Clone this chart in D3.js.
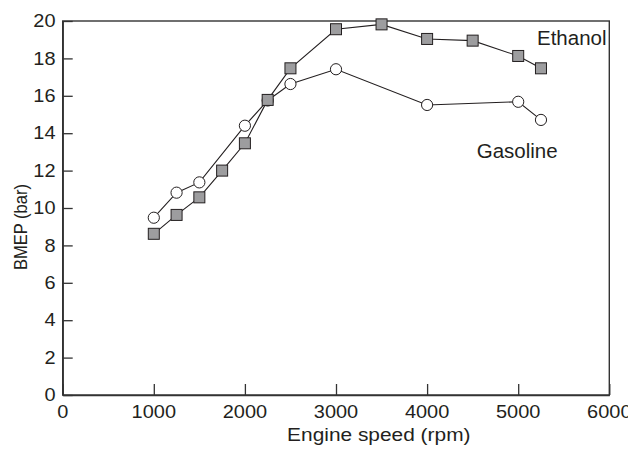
<!DOCTYPE html>
<html>
<head>
<meta charset="utf-8">
<script src="https://cdn.jsdelivr.net/npm/d3@7/dist/d3.min.js"></script>
<style>
  html, body { margin: 0; padding: 0; background: #fff; }
  svg { display: block; }
  text { font-family: "Liberation Sans", Arial, Helvetica, sans-serif; fill: #231f20; }
</style>
</head>
<body>
<svg id="chart" width="628" height="462"></svg>
<script>
// Data
const ethanolSpeed = [1000, 1250, 1500, 1750, 2000, 2250, 2500, 3000, 3500, 4000, 4500, 5000, 5250];
const ethanolBMEP  = [8.62, 9.63, 10.57, 12.0, 13.46, 15.78, 17.47, 19.56, 19.82, 19.04, 18.95, 18.13, 17.47];
const gasolineSpeed = [1000, 1250, 1500, 2000, 2250, 2500, 3000, 4000, 5000, 5250];
const gasolineBMEP  = [9.48, 10.82, 11.37, 14.40, 15.75, 16.63, 17.42, 15.51, 15.68, 14.71];
const xTicks = [0, 1000, 2000, 3000, 4000, 5000, 6000];
const yTicks = [0, 2, 4, 6, 8, 10, 12, 14, 16, 18, 20];
const seriesLabels = ["Ethanol", "Gasoline"];
const xTitle = "Engine speed (rpm)";
const yTitle = "BMEP (bar)";

(function () {
const svg = d3.select("#chart");
const mLeft = 62.7, mRight = 609.3, mTop = 21, mBottom = 395;
const x = d3.scaleLinear().domain([0, 6000]).range([mLeft, mRight]);
const y = d3.scaleLinear().domain([0, 20]).range([mBottom, mTop]);
const ink = "#231f20";
const sx = 1.14;

// Frame
svg.append("rect").attr("x", mLeft).attr("y", mTop)
  .attr("width", mRight - mLeft).attr("height", mBottom - mTop)
  .attr("fill", "none").attr("stroke", "#333").attr("stroke-width", 1.4);

// Axes (ticks inward)
const xAxis = svg.append("g").attr("transform", `translate(0,${mBottom})`)
  .call(d3.axisBottom(x).tickValues(xTicks).tickSizeInner(-11).tickSizeOuter(0).tickFormat(""));
const yAxis = svg.append("g").attr("transform", `translate(${mLeft},0)`)
  .call(d3.axisLeft(y).tickValues(yTicks).tickSizeInner(-10).tickSizeOuter(0).tickFormat(""));
[xAxis, yAxis].forEach(g => {
  g.select(".domain").attr("stroke", "#333").attr("stroke-width", 1.4);
  g.selectAll(".tick line").attr("stroke", "#333").attr("stroke-width", 1.3);
});

// Tick labels
svg.append("g").selectAll("text").data(xTicks).join("text")
  .attr("transform", d => `translate(${x(d)},418) scale(${sx},1)`)
  .attr("text-anchor", "middle").attr("font-size", 17.5).text(d => d);
svg.append("g").selectAll("text").data(yTicks).join("text")
  .attr("transform", d => `translate(55.5,${y(d) + 6.2}) scale(${sx},1)`)
  .attr("text-anchor", "end").attr("font-size", 17.5).text(d => d);

// Axis titles
svg.append("text").attr("transform", `translate(378.8,441) scale(1.13,1)`)
  .attr("text-anchor", "middle").attr("font-size", 18.5).text(xTitle);
svg.append("text").attr("transform", `translate(27,227) scale(1.13,1) rotate(-90)`)
  .attr("text-anchor", "middle").attr("font-size", 16.5).text(yTitle);

// Lines
const line = d3.line().x(d => x(d[0])).y(d => y(d[1]));
const eth = ethanolSpeed.map((s, i) => [s, ethanolBMEP[i]]);
const gas = gasolineSpeed.map((s, i) => [s, gasolineBMEP[i]]);
svg.append("path").datum(gas).attr("d", line).attr("fill", "none").attr("stroke", ink).attr("stroke-width", 1.1);
svg.append("path").datum(eth).attr("d", line).attr("fill", "none").attr("stroke", ink).attr("stroke-width", 1.1);

// Markers
svg.append("g").selectAll("circle").data(gas).join("circle")
  .attr("cx", d => x(d[0])).attr("cy", d => y(d[1])).attr("r", 5.6)
  .attr("fill", "#fff").attr("stroke", ink).attr("stroke-width", 1);
const sq = 11;
svg.append("g").selectAll("rect").data(eth).join("rect")
  .attr("x", d => x(d[0]) - sq / 2).attr("y", d => y(d[1]) - sq / 2)
  .attr("width", sq).attr("height", sq)
  .attr("fill", "#9d9d9f").attr("stroke", ink).attr("stroke-width", 1);

// Series labels
svg.append("text").attr("x", 537).attr("y", 45).attr("font-size", 20.5).text(seriesLabels[0]);
svg.append("text").attr("x", 476.7).attr("y", 158.3).attr("font-size", 20.5).text(seriesLabels[1]);
})();
</script>
</body>
</html>
